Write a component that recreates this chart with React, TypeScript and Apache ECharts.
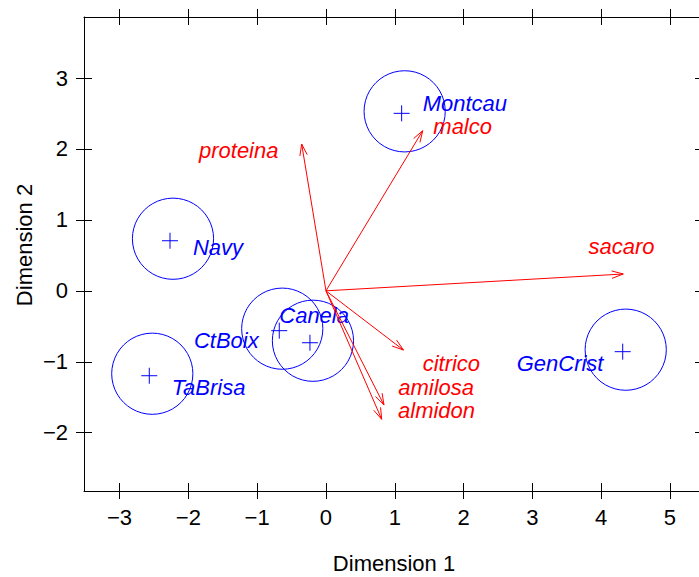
import React, { useEffect, useRef } from "react";
import * as echarts from "echarts";

// Samples (blue): coordinates on the two dimensions
const sampleNames = ["Montcau", "Navy", "CtBoix", "Canela", "TaBrisa", "GenCrist"];
const sampleX = [1.1, -2.267, -0.679, -0.233, -2.568, 4.313];
const sampleY = [2.502, 0.706, -0.562, -0.732, -1.197, -0.858];
const sampleLabelX = [1.405, -1.933, -1.919, -0.679, -2.243, 2.772];
const sampleLabelY = [2.647, 0.617, -0.694, -0.341, -1.36, -1.022];
const circleRadius = 0.59;

// Variables (red arrows from origin)
const varNames = ["malco", "sacaro", "proteina", "citrico", "amilosa", "almidon"];
const varX = [1.406, 4.321, -0.353, 1.126, 0.843, 0.81];
const varY = [2.257, 0.237, 2.069, -0.835, -1.61, -1.811];
const varLabelX = [1.56, 3.815, -1.846, 1.405, 1.051, 1.047];
const varLabelY = [2.323, 0.622, 1.985, -1.022, -1.356, -1.694];

const xTicks = [-3, -2, -1, 0, 1, 2, 3, 4, 5];
const yTicks = [-2, -1, 0, 1, 2, 3];
const xMin = -3.517, xMax = 5.48;
const yMin = -2.822, yMax = 3.86;

const FONT = '"Liberation Sans", Arial, Helvetica, sans-serif';
const BLUE = "#0000ff";
const RED = "#ff0000";

const fmt = (v: number) => (v < 0 ? "\u2212" + Math.abs(v) : String(v));

function xAxisDef(position: string, inside: boolean, main: boolean) {
  return {
    type: "value",
    position,
    min: xMin,
    max: xMax,
    axisLine: { show: main, onZero: false, lineStyle: { color: "#000", width: 1 } },
    axisTick: { show: true, inside, length: 8, customValues: xTicks, lineStyle: { color: "#000", width: 1 } },
    axisLabel: {
      show: main && position === "bottom",
      customValues: xTicks,
      formatter: fmt,
      margin: 15,
      color: "#000",
      fontSize: 22,
      fontFamily: FONT,
    },
    splitLine: { show: false },
  };
}

function yAxisDef(position: string, inside: boolean, main: boolean) {
  return {
    type: "value",
    position,
    min: yMin,
    max: yMax,
    axisLine: { show: main, onZero: false, lineStyle: { color: "#000", width: 1 } },
    axisTick: { show: true, inside, length: 8, customValues: yTicks, lineStyle: { color: "#000", width: 1 } },
    axisLabel: {
      show: main && position === "left",
      customValues: yTicks,
      formatter: fmt,
      margin: 16,
      color: "#000",
      fontSize: 22,
      fontFamily: FONT,
    },
    splitLine: { show: false },
  };
}

export default function App() {
  const ref = useRef<HTMLDivElement>(null);
  useEffect(() => {
    if (!ref.current) return;
    const chart = echarts.init(ref.current, null, { renderer: "svg" });

    const sampleData = sampleX.map((x, i) => [x, sampleY[i], sampleLabelX[i], sampleLabelY[i]]);
    const varData = varX.map((x, i) => [x, varY[i], varLabelX[i], varLabelY[i]]);

    const option: any = {
      animation: false,
      backgroundColor: "#fff",
      grid: { left: 84, right: -4, top: 17, bottom: 86, containLabel: false, outerBoundsMode: "none" },
      xAxis: [
        xAxisDef("bottom", false, true),
        xAxisDef("bottom", true, false),
        xAxisDef("top", false, true),
        xAxisDef("top", true, false),
      ],
      yAxis: [
        yAxisDef("left", false, true),
        yAxisDef("left", true, false),
        yAxisDef("right", false, true),
        yAxisDef("right", true, false),
      ],
      graphic: [
        {
          type: "text",
          x: 394,
          y: 563,
          style: { text: "Dimension 1", align: "center", verticalAlign: "middle", fontSize: 22, fontFamily: FONT, fill: "#000" },
        },
        {
          type: "text",
          x: 24,
          y: 245,
          rotation: Math.PI / 2,
          style: { text: "Dimension 2", align: "center", verticalAlign: "middle", fontSize: 22, fontFamily: FONT, fill: "#000" },
        },
      ],
      series: [
        {
          type: "custom",
          xAxisIndex: 0,
          yAxisIndex: 0,
          data: sampleData,
          clip: false,
          renderItem: (params: any, api: any) => {
            const i = params.dataIndex;
            const p = api.coord([api.value(0), api.value(1)]);
            const o = api.coord([0, 0]);
            const r = Math.abs(api.coord([circleRadius, 0])[0] - o[0]);
            const lp = api.coord([api.value(2), api.value(3)]);
            const s = 8;
            return {
              type: "group",
              children: [
                { type: "circle", shape: { cx: p[0] + 3, cy: p[1] - 2, r }, style: { fill: "none", stroke: BLUE, lineWidth: 1 } },
                { type: "line", shape: { x1: p[0] - s, y1: p[1], x2: p[0] + s, y2: p[1] }, style: { stroke: BLUE, lineWidth: 1 } },
                { type: "line", shape: { x1: p[0], y1: p[1] - s, x2: p[0], y2: p[1] + s }, style: { stroke: BLUE, lineWidth: 1 } },
                {
                  type: "text",
                  x: lp[0],
                  y: lp[1],
                  style: {
                    text: sampleNames[i],
                    align: "left",
                    verticalAlign: "middle",
                    fontSize: 22,
                    fontStyle: "italic",
                    fontFamily: FONT,
                    fill: BLUE,
                  },
                },
              ],
            };
          },
        },
        {
          type: "custom",
          xAxisIndex: 0,
          yAxisIndex: 0,
          data: varData,
          clip: false,
          renderItem: (params: any, api: any) => {
            const i = params.dataIndex;
            const o = api.coord([0, 0]);
            const t = api.coord([api.value(0), api.value(1)]);
            const lp = api.coord([api.value(2), api.value(3)]);
            const ang = Math.atan2(t[1] - o[1], t[0] - o[0]);
            const hl = 12;
            const ha = (18 * Math.PI) / 180;
            const h1 = [t[0] - hl * Math.cos(ang - ha), t[1] - hl * Math.sin(ang - ha)];
            const h2 = [t[0] - hl * Math.cos(ang + ha), t[1] - hl * Math.sin(ang + ha)];
            return {
              type: "group",
              children: [
                { type: "line", shape: { x1: o[0], y1: o[1], x2: t[0], y2: t[1] }, style: { stroke: RED, lineWidth: 1 } },
                { type: "polyline", shape: { points: [h1, t, h2] }, style: { stroke: RED, fill: "none", lineWidth: 1 } },
                {
                  type: "text",
                  x: lp[0],
                  y: lp[1],
                  style: {
                    text: varNames[i],
                    align: "left",
                    verticalAlign: "middle",
                    fontSize: 22,
                    fontStyle: "italic",
                    fontFamily: FONT,
                    fill: RED,
                  },
                },
              ],
            };
          },
        },
      ],
    };
    chart.setOption(option);
    return () => chart.dispose();
  }, []);
  return <div ref={ref} style={{ width: 699, height: 577, position: "absolute", left: 0, top: 0 }} />;
}
